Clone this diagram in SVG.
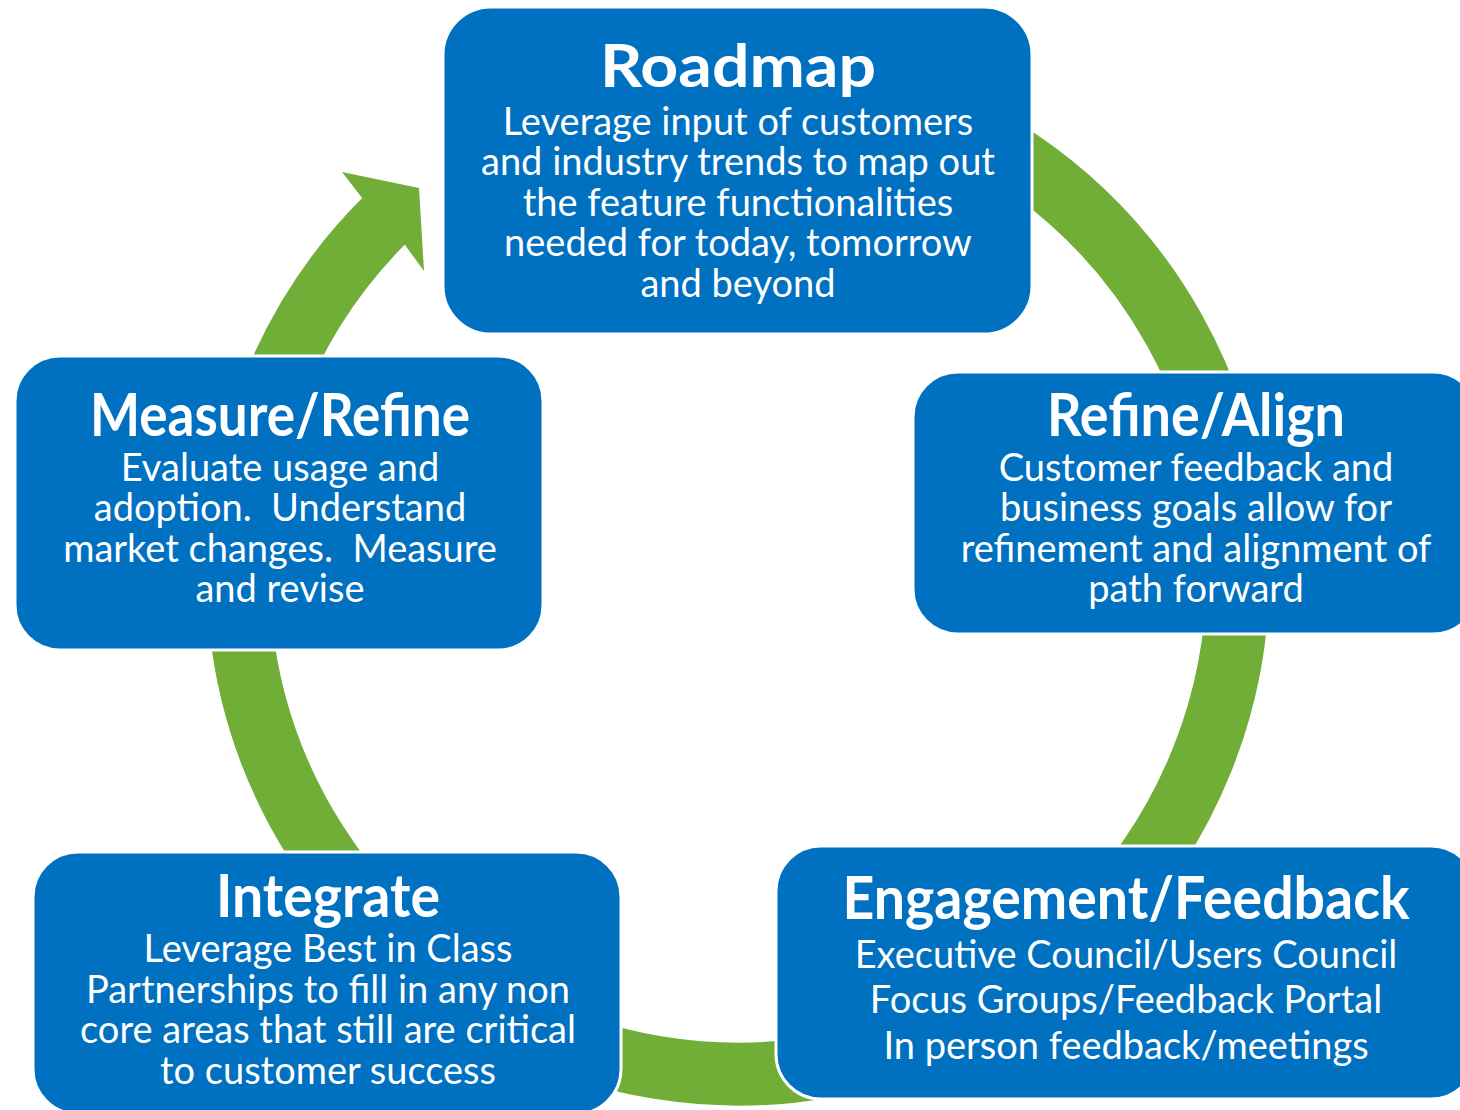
<svg xmlns="http://www.w3.org/2000/svg" width="1460" height="1110" viewBox="0 0 1460 1110">
<style>
.box{fill:#0070C0;stroke:#FFFFFF;stroke-width:3}
.title{font-family:Lato,"Open Sans","Liberation Sans",sans-serif;font-weight:700;font-size:60px;fill:#FFFFFF;text-anchor:middle}
.body{font-family:Lato,"Open Sans","Liberation Sans",sans-serif;font-weight:400;font-size:38px;fill:#FFFFFF;text-anchor:middle;white-space:pre}
.ring{fill:none;stroke:#71AE37;stroke-width:63}
.head{fill:#71AE37}
</style>
<rect width="1460" height="1110" fill="#FFFFFF"/>
<g id="connectors">
<path class="ring" d="M 824.8 81.6 A 500 500 0 1 1 384.4 220.4"/>
<polygon class="head" points="362.5,198.5 342,172 419,188 424,271 405,245"/>
</g>
<g id="roadmap">
<rect class="box" x="443" y="7" width="589" height="327" rx="48"/>
<text class="title" x="738" y="87" textLength="276" lengthAdjust="spacingAndGlyphs">Roadmap</text>
<text class="body" x="738" y="135">Leverage input of customers</text>
<text class="body" x="738" y="175">and industry trends to map out</text>
<text class="body" x="738" y="216">the feature functionalities</text>
<text class="body" x="738" y="256">needed for today, tomorrow</text>
<text class="body" x="738" y="297">and beyond</text>
</g>
<g id="refine-align">
<rect class="box" x="913" y="372" width="565" height="262" rx="45"/>
<text class="title" x="1196" y="436" textLength="298" lengthAdjust="spacingAndGlyphs">Refine/Align</text>
<text class="body" x="1196" y="481">Customer feedback and</text>
<text class="body" x="1196" y="521">business goals allow for</text>
<text class="body" x="1196" y="562">refinement and alignment of</text>
<text class="body" x="1196" y="602">path forward</text>
</g>
<g id="engagement-feedback">
<rect class="box" x="776" y="846" width="700" height="253" rx="45"/>
<text class="title" x="1126" y="919" textLength="567" lengthAdjust="spacingAndGlyphs">Engagement/Feedback</text>
<text class="body" x="1126" y="968">Executive Council/Users Council</text>
<text class="body" x="1126" y="1013">Focus Groups/Feedback Portal</text>
<text class="body" x="1126" y="1059">In person feedback/meetings</text>
</g>
<g id="integrate">
<rect class="box" x="33" y="852" width="588" height="262" rx="45"/>
<text class="title" x="328" y="917" textLength="224" lengthAdjust="spacingAndGlyphs">Integrate</text>
<text class="body" x="328" y="962">Leverage Best in Class</text>
<text class="body" x="328" y="1003">Partnerships to fill in any non</text>
<text class="body" x="328" y="1043">core areas that still are critical</text>
<text class="body" x="328" y="1084">to customer success</text>
</g>
<g id="measure-refine">
<rect class="box" x="15" y="356" width="528" height="294" rx="45"/>
<text class="title" x="280" y="436" textLength="380" lengthAdjust="spacingAndGlyphs">Measure/Refine</text>
<text class="body" x="280" y="481">Evaluate usage and</text>
<text class="body" x="280" y="521" xml:space="preserve">adoption.  Understand</text>
<text class="body" x="280" y="562" xml:space="preserve">market changes.  Measure</text>
<text class="body" x="280" y="602">and revise</text>
</g>
</svg>
